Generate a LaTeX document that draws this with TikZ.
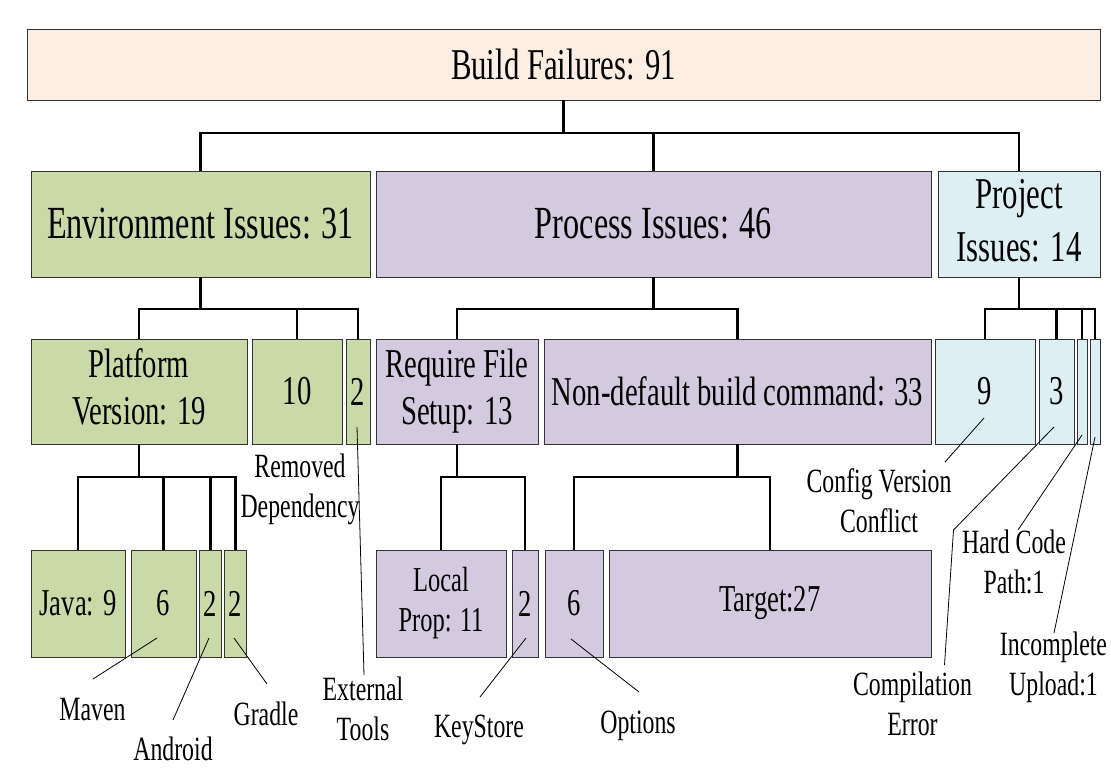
\documentclass[tikz,border=0pt]{standalone}
\usepackage{fontspec}
\setmainfont{Liberation Serif}[FakeStretch=0.7]
\usetikzlibrary{calc}
\definecolor{boxline}{HTML}{333333}
\definecolor{rootfill}{HTML}{FDEEE3}
\definecolor{envfill}{HTML}{C9D9A7}
\definecolor{procfill}{HTML}{D3CADF}
\definecolor{projfill}{HTML}{DDEFF2}
\newcommand\stack[1]{\begin{tabular}{@{}c@{}}#1\end{tabular}}
\newcommand\tstack[1]{\begin{tabular}[t]{@{}c@{}}#1\end{tabular}}
\newcommand\fs[2]{\fontsize{#1}{#2}\selectfont}
\begin{document}
\begin{tikzpicture}[x=1pt,y=-1pt,
  box/.style={draw=boxline,line width=1pt,inner sep=0pt,outer sep=0pt},
  rootbox/.style={box,minimum height=71pt,fill=rootfill,font=\fs{44}{50}},
  lone/.style={box,minimum height=106pt},
  ltwo/.style={box,minimum height=105pt,font=\fs{41}{47}},
  lthree/.style={box,minimum height=107pt,font=\fs{38}{44}},
  env/.style={fill=envfill},
  proc/.style={fill=procfill},
  proj/.style={fill=projfill},
  tree/.style={line width=2.4pt,black},
  callout/.style={line width=0.8pt,black},
  lbl/.style={inner sep=0pt,anchor=base,font=\fs{34}{40}}]

\useasboundingbox (0,0) rectangle (1111,769);
\fill[white] (0,0) rectangle (1111,769);

% ---- root ----
\node[rootbox,minimum width=1073pt] (root) at (563.5,64.5) {Build Failures: 91};

% ---- first level ----
\node[lone,env,minimum width=339pt,font=\fs{46}{52}] (envi) at (200.5,224) {Environment Issues: 31};
\node[lone,proc,minimum width=555pt,font=\fs{46}{52}] (proc) at (653.5,224) {Process Issues: 46};
\node[lone,proj,minimum width=162pt,font=\fs{44}{53}] (proj) at (1019,224) {\stack{Project\\Issues: 14}};

% ---- second level ----
\node[ltwo,env,minimum width=216pt] (plat) at (139,391.5) {\stack{Platform\\Version: 19}};
\node[ltwo,env,minimum width=90pt] (remd) at (297,391.5) {10};
\node[ltwo,env,minimum width=24pt] (extt) at (358,391.5) {2};
\node[ltwo,proc,minimum width=162pt] (reqf) at (457,391.5) {\stack{Require File\\Setup: 13}};
\node[ltwo,proc,minimum width=387pt,font=\fs{41}{47}] (ndbc) at (737.5,391.5) {Non-default build command: 33};
\node[ltwo,proj,minimum width=100pt] (cfgv) at (985,391.5) {9};
\node[ltwo,proj,minimum width=35pt] (cmpe) at (1056.5,391.5) {3};
\node[ltwo,proj,minimum width=10pt] (hcpa) at (1082,391.5) {};
\node[ltwo,proj,minimum width=10pt] (incu) at (1095,391.5) {};

% ---- third level ----
\node[lthree,env,minimum width=94pt] (java) at (78,603.5) {Java: 9};
\node[lthree,env,minimum width=65pt] (mavn) at (163.5,603.5) {6};
\node[lthree,env,minimum width=22pt] (andr) at (210.5,603.5) {2};
\node[lthree,env,minimum width=22pt] (grad) at (235.5,603.5) {2};
\node[lthree,proc,minimum width=130pt,font=\fs{35}{40}] (locp) at (441,603.5) {\stack{Local\\Prop: 11}};
\node[lthree,proc,minimum width=26pt] (keys) at (525,603.5) {2};
\node[lthree,proc,minimum width=58pt] (optn) at (574,603.5) {6};
\node[lthree,proc,minimum width=322pt] (targ) at (770,603.5) {Target:27};

% ---- tree connectors ----
\draw[tree] (root.south) -- ++(0,33) coordinate (j0);
\draw[tree] (envi.north) |- (j0) -| (proj.north);
\draw[tree] (proc.north) -- (proc.north |- j0);

\draw[tree] (envi.south) -- ++(0,32) coordinate (j1);
\draw[tree] (plat.north) |- (j1) -| (extt.north);
\draw[tree] (remd.north) -- (remd.north |- j1);

\draw[tree] (proc.south) -- ++(0,32) coordinate (j2);
\draw[tree] (reqf.north) |- (j2) -| (ndbc.north);

\draw[tree] (proj.south) -- ++(0,32) coordinate (j3);
\draw[tree] (cfgv.north) |- (j3) -| (incu.north);
\draw[tree] (cmpe.north) -- (cmpe.north |- j3);
\draw[tree] (hcpa.north) -- (hcpa.north |- j3);

\draw[tree] (plat.south) -- ++(0,33) coordinate (j4);
\draw[tree] (java.north) |- (j4) -| (grad.north);
\draw[tree] (mavn.north) -- (mavn.north |- j4);
\draw[tree] (andr.north) -- (andr.north |- j4);

\draw[tree] (reqf.south) -- ++(0,33) coordinate (j5);
\draw[tree] (locp.north) |- (j5) -| (keys.north);

\draw[tree] (ndbc.south) -- ++(0,33) coordinate (j6);
\draw[tree] (optn.north) |- (j6) -| (targ.north);

% ---- callout labels ----
\node[lbl] (lrem) at (300,477) {\tstack{Removed\\Dependency}};
\node[lbl] (lext) at (363,700) {\tstack{External\\Tools}};
\node[lbl] (lmav) at (92.5,720) {Maven};
\node[lbl] (land) at (173,760) {Android};
\node[lbl] (lgra) at (266,725) {Gradle};
\node[lbl] (lkey) at (479,737) {KeyStore};
\node[lbl] (lopt) at (638,733) {Options};
\node[lbl] (lcfg) at (879,492) {\tstack{Config Version\\Conflict}};
\node[lbl] (lcmp) at (912.5,695) {\tstack{Compilation\\Error}};
\node[lbl] (lhcp) at (1014,553) {\tstack{Hard Code\\Path:1}};
\node[lbl] (linc) at (1053.5,655) {\tstack{Incomplete\\Upload:1}};

% ---- callout leaders ----
\draw[callout] ($(extt.center)+(-1,35.5)$) -- ($(lext.base)+(1,-25)$);
\draw[callout] ($(mavn.center)+(-6.5,34.5)$) -- ($(lmav.base)+(0.5,-41)$);
\draw[callout] ($(andr.center)+(-1.5,34.5)$) -- ($(land.base)+(0,-40)$);
\draw[callout] ($(grad.center)+(-1.5,34.5)$) -- ($(lgra.base)+(1,-41)$);
\draw[callout] ($(keys.center)+(1,34.5)$) -- ($(lkey.base)+(1,-40)$);
\draw[callout] ($(optn.center)+(-3,35.5)$) -- ($(lopt.base)+(1,-41)$);
\draw[callout] ($(cfgv.center)+(-1,26.5)$) -- ($(lcfg.base)+(66,-30)$);
\draw[callout] ($(cmpe.center)+(-2.5,35.5)$) -- ($(lcmp.base)+(41,-165)$) -- ($(lcmp.base)+(32,-30)$);
\draw[callout] ($(hcpa.center)+(0,43.5)$) -- ($(lhcp.base)+(4,-23)$);
\draw[callout] ($(incu.center)+(0,45.5)$) -- ($(linc.base)+(0.5,-22)$);
\end{tikzpicture}
\end{document}
